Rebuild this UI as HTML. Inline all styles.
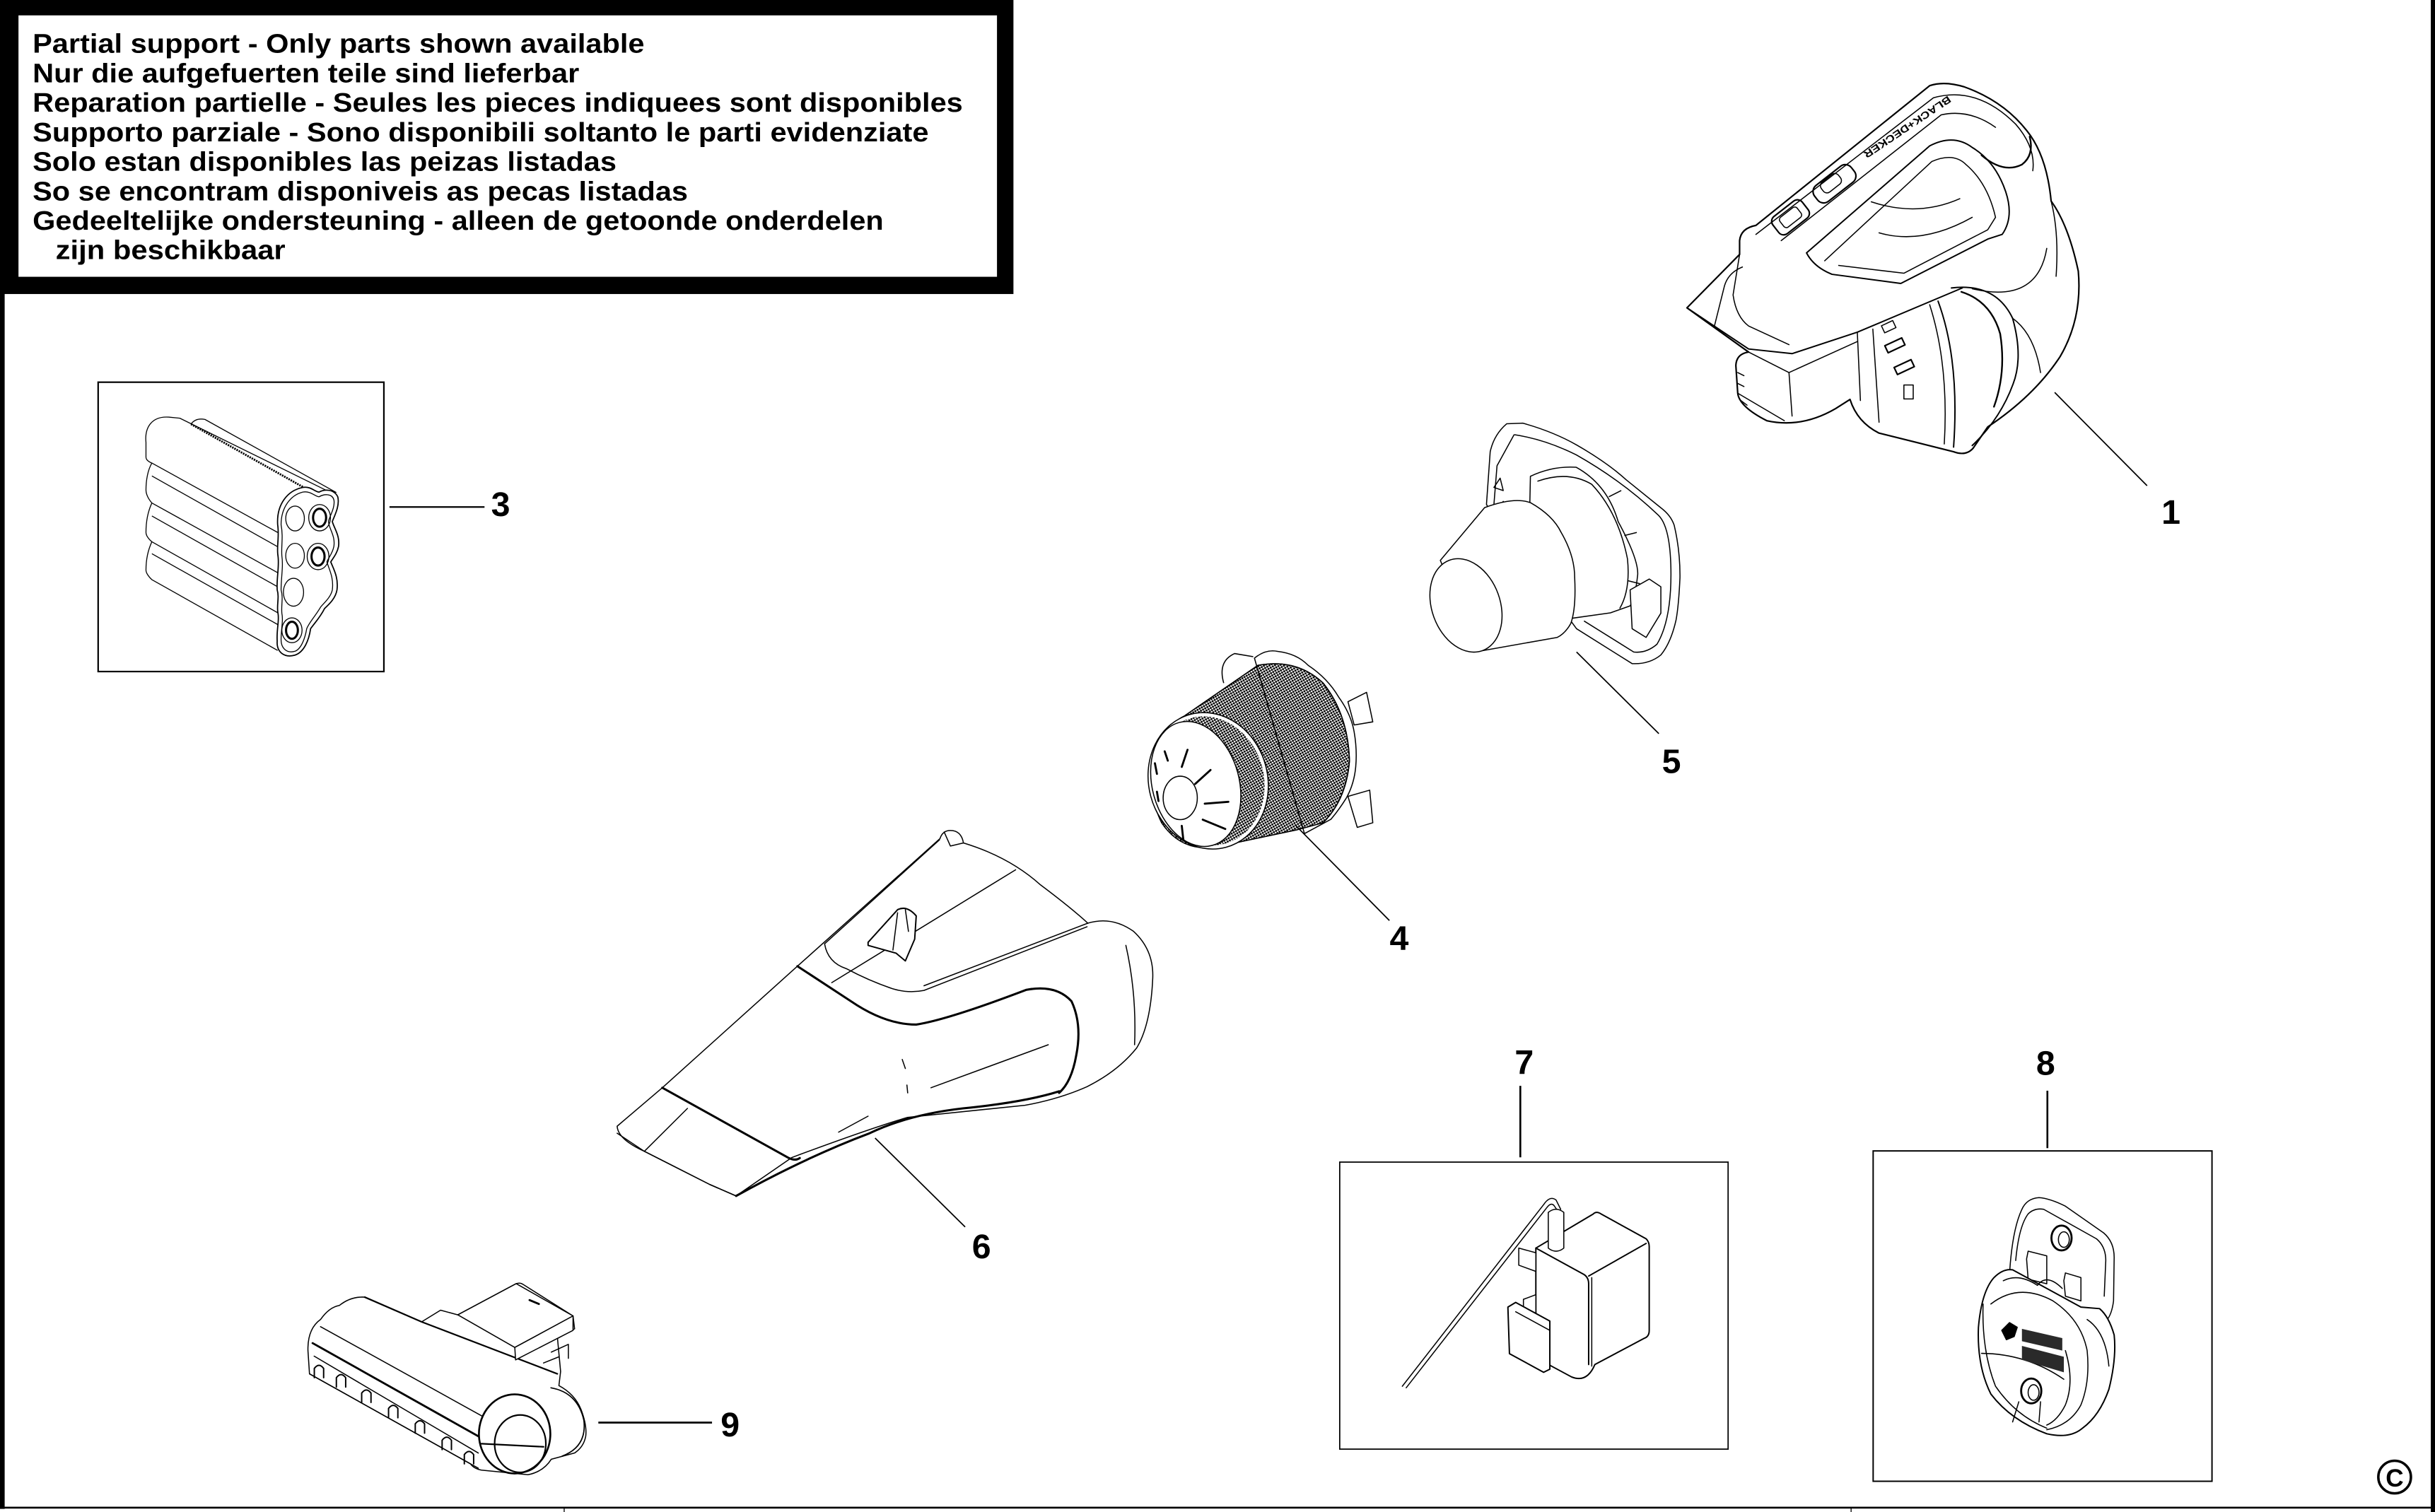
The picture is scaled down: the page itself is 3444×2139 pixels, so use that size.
<!DOCTYPE html>
<html>
<head>
<meta charset="utf-8">
<style>
html,body{margin:0;padding:0;background:#fff;}
svg{display:block;}
.t{font-family:"Liberation Sans",Arial,sans-serif;font-weight:bold;fill:#000;}
</style>
</head>
<body>
<svg xmlns="http://www.w3.org/2000/svg" width="3444" height="2139" viewBox="0 0 1568 974" preserveAspectRatio="none">
<defs>
<pattern id="mesh" width="1.6" height="1.6" patternUnits="userSpaceOnUse" patternTransform="rotate(-30)">
<circle cx="0.8" cy="0.8" r="0.66" fill="#000"/>
</pattern>
</defs>
<rect x="0" y="0" width="1568" height="974" fill="#fff"/>

<!-- page frame -->
<rect x="0" y="189" width="3" height="783" fill="#000"/>
<rect x="1565.3" y="0" width="2.7" height="974" fill="#000"/>
<rect x="0" y="970.6" width="1568" height="1.2" fill="#000"/>
<rect x="363" y="971" width="0.6" height="3" fill="#000"/>
<rect x="1191.7" y="971" width="0.6" height="3" fill="#000"/>

<!-- text box -->
<rect x="0" y="0" width="652.6" height="189.4" fill="#000"/>
<rect x="11.9" y="9.9" width="630.1" height="168.4" fill="#fff"/>
<g class="t" font-size="17.3">
<text x="21" y="34" textLength="394" lengthAdjust="spacingAndGlyphs">Partial support - Only parts shown available</text>
<text x="21" y="53" textLength="352" lengthAdjust="spacingAndGlyphs">Nur die aufgefuerten teile sind lieferbar</text>
<text x="21" y="72" textLength="599" lengthAdjust="spacingAndGlyphs">Reparation partielle - Seules les pieces indiquees sont disponibles</text>
<text x="21" y="91" textLength="577" lengthAdjust="spacingAndGlyphs">Supporto parziale - Sono disponibili soltanto le parti evidenziate</text>
<text x="21" y="110" textLength="376" lengthAdjust="spacingAndGlyphs">Solo estan disponibles las peizas listadas</text>
<text x="21" y="129" textLength="422" lengthAdjust="spacingAndGlyphs">So se encontram disponiveis as pecas listadas</text>
<text x="21" y="148" textLength="548" lengthAdjust="spacingAndGlyphs">Gedeeltelijke ondersteuning - alleen de getoonde onderdelen</text>
<text x="35.8" y="167" textLength="148" lengthAdjust="spacingAndGlyphs">zijn beschikbaar</text>
</g>

<!-- labels -->
<g class="t" font-size="22" text-anchor="middle">
<text x="1398" y="337.5">1</text>
<text x="322.4" y="332.4">3</text>
<text x="901" y="612">4</text>
<text x="1076.3" y="497.9">5</text>
<text x="632" y="810.5">6</text>
<text x="981.5" y="691.8">7</text>
<text x="1317.3" y="692.4">8</text>
<text x="470.2" y="925.3">9</text>
</g>

<!-- leaders -->
<g stroke="#000" fill="none">
<line x1="250.8" y1="326.6" x2="312" y2="326.6" stroke-width="1"/>
<line x1="979" y1="699.5" x2="979" y2="745.5" stroke-width="1.2"/>
<line x1="1318.4" y1="702.6" x2="1318.4" y2="739.6" stroke-width="1.2"/>
<line x1="385.3" y1="916.4" x2="458.5" y2="916.4" stroke-width="1.2"/>
<line x1="1323.1" y1="252.8" x2="1382.6" y2="312.9" stroke-width="0.8"/>
<line x1="1015.2" y1="420" x2="1068.2" y2="472.6" stroke-width="0.8"/>
<line x1="833.8" y1="531.2" x2="894.7" y2="593" stroke-width="0.8"/>
<line x1="563.5" y1="733.1" x2="621.5" y2="790.4" stroke-width="0.8"/>
</g>

<!-- boxes -->
<g stroke="#000" fill="none">
<rect x="63.2" y="246.2" width="184" height="186.4" stroke-width="1"/>
<rect x="862.7" y="748.6" width="250.1" height="184.9" stroke-width="0.8"/>
<rect x="1206.2" y="741.4" width="218.2" height="212.8" stroke-width="0.9"/>
</g>

<!-- copyright -->
<circle cx="1542" cy="951.5" r="10.5" fill="none" stroke="#000" stroke-width="1.6"/>
<text x="1542" y="957.5" class="t" font-size="16" text-anchor="middle">C</text>

<!-- PART 3 battery -->
<g stroke="#000" fill="none" stroke-width="0.6" stroke-linejoin="round">
<path d="M108.6,268.7 C98,268 93,275 94,285 L94,294.5 C94,297 97.8,298.3 97.8,298.3 C95,303 94,310 94,315.7 C94,320 97.8,324 97.8,324 C95,330 94,337 94,343 C94,346 97.8,349 97.8,349 C95,355 94,361 94,367.3 C94,370 97.8,373.4 97.8,373.4 L178.8,419"/>
<path d="M108.6,268.7 L115.8,269.4 L213,317.3"/>
<path d="M123,273.2 Q126,269 132,270.2 L216.6,317.3"/>
<path d="M123,273.2 L198.6,315.7" stroke-width="1.3" stroke-dasharray="1 0.6"/>
<path d="M97.8,298.3 L178.8,343 M97.8,306.6 L178.8,352.2 M97.8,324 L178.8,368.9 M97.8,332.4 L178.8,378 M97.8,349 L178.8,394.7 M97.8,356.7 L178.8,402.3"/>
<path fill="#fff" stroke-width="0.8" d="M178.8,338 C178,325 185,316 195,314 C200,313 203,317 205.5,317 C209,315 215,315 217.5,320 C219,326 215,333 214,336 C215,340 219,345 218,352 C217,357 214,360 213,362 C215,367 218,372 217,380 C216,386 211,390 209,392 C206,398 202,402 200,405 C199,412 196,420 190,422 C183,424 178,420 178.5,413 C178,405 180,400 179,395 C178,390 180,385 178.5,380 C178,372 180,365 179,358 C178,352 180,346 178.8,338 Z"/>
<path d="M181,338 C181,327 187,319 195,317 C200,316 203,320 205.5,320 C209,318 214,318 215,322 C216,327 212,333 211.5,336 C212,341 216,345 215,352 C214,357 211,360 210.5,362 C212,367 215,372 214,380 C213,385 208,389 206.5,391 C203,397 199,401 197.5,405 C196.5,411 194,418 190,419.5 C185,421 181,418 181,412 C181,405 182.5,400 181.5,395 C181,390 182.5,385 181,380 C181,372 182.5,365 181.5,358 C181,352 182.5,346 181,338 Z"/>
<ellipse cx="190" cy="334" rx="6" ry="8"/>
<ellipse cx="190" cy="358" rx="6" ry="8"/>
<ellipse cx="189" cy="381.5" rx="6.5" ry="9"/>
<ellipse cx="205.8" cy="333.5" rx="7" ry="8.5"/>
<ellipse cx="205.8" cy="333.5" rx="4.2" ry="5.8" stroke-width="1.4"/>
<ellipse cx="204.8" cy="358.5" rx="7" ry="8.5"/>
<ellipse cx="204.8" cy="358.5" rx="4.2" ry="5.8" stroke-width="1.4"/>
<ellipse cx="188" cy="406" rx="6.5" ry="8"/>
<ellipse cx="188" cy="406" rx="3.8" ry="5.5" stroke-width="1.4"/>
</g>

<!-- PART 1 main unit -->
<g stroke="#000" fill="none" stroke-width="0.7" stroke-linejoin="round" stroke-linecap="round">
<path fill="#fff" stroke-width="1" d="M1086.3,198.3 L1120.2,163.9 L1120.2,155 Q1121,147 1130.7,145.2 L1242.6,55.2 Q1252,52 1265,56 Q1290,65 1305,84 Q1318,100 1320.8,129.5 Q1332,145 1338.3,174.7 Q1341,205 1326.6,229.7 Q1310,255 1280,275 L1270.6,288.7 Q1266,294 1258,291 L1233.3,284.8 L1210,279 Q1196,272 1191.3,257.3 L1182,263.2 Q1160,276 1137.7,271 Q1120,262 1119,253.3 L1117.8,235.6 Q1118,228 1126,226.8 Z"/>
<path d="M1086.3,198.3 L1126,224.8 L1154,227.8 L1196,214 L1263.6,185.5" stroke-width="0.9"/>
<path d="M1120.2,163.9 L1116,190 Q1118,204 1126,210 L1152,222"/>
<path d="M1104,210 L1110,186 Q1112,176 1122,172"/>
<path d="M1130.7,151 L1245,63 Q1273,55 1298,80 Q1311,95 1309,110"/>
<path d="M1147,155 L1250,74 Q1268,70 1285,82"/>
<path d="M1163.3,162.9 L1242.6,94 Q1258,86 1270,95 Q1285,104 1291.6,123.6 Q1297,140 1289.3,151 L1280,154 L1224,182.6 L1179.7,176.7 Q1168,172 1163.3,162.9" stroke-width="0.9"/>
<path d="M1175,168 L1244,104 Q1258,98 1266,106 Q1280,118 1285,140 L1280,148 L1226,176 L1184,171"/>
<path d="M1205,130 Q1235,140 1262,128 M1210,150 Q1238,158 1270,140"/>
<path d="M1276,100 Q1290,112 1302,106 Q1310,100 1307,88" stroke-width="1.1"/>
<path d="M1320.8,129.5 Q1326,150 1324,178"/>
<path d="M1256.6,185.5 Q1285,182 1296,205 Q1303,230 1296.3,247.4 Q1288,270 1270,287" stroke-width="0.9"/>
<path d="M1242.6,196.3 Q1255,235 1252,286"/>
<path d="M1248,194 Q1262,232 1258,288" stroke-width="0.9"/>
<path d="M1263,188 Q1282,194 1288,215 Q1292,240 1284,262" stroke-width="1.1"/>
<path d="M1270,186 Q1312,196 1318,160"/>
<path d="M1296,205 Q1310,215 1314,240"/>
<path d="M1196,214 L1198,258 M1206,212 L1210,272"/>
<path d="M1126,226.8 L1152,240 L1154,268 M1119,253.3 L1149,271"/>
<path d="M1152,240 L1196,220"/>
<path d="M1119,240 L1123,242 M1119,247 L1123,249 M1121,258 L1125,261"/>
<rect x="1212" y="208" width="8" height="5" transform="rotate(-25 1216 210)"/>
<rect x="1214" y="220" width="12" height="5" transform="rotate(-25 1220 222)" stroke-width="1"/>
<rect x="1220" y="234" width="12" height="5" transform="rotate(-25 1226 236)" stroke-width="1"/>
<rect x="1226" y="248" width="6" height="9"/>
<rect x="1166" y="112" width="30" height="13" rx="5" transform="rotate(-38 1181 118)" stroke-width="1"/>
<rect x="1172" y="114" width="14" height="8" rx="3" transform="rotate(-38 1179 118)"/>
<rect x="1141" y="133" width="24" height="14" rx="4" transform="rotate(-38 1153 140)" stroke-width="1"/>
<rect x="1146" y="136" width="14" height="8" rx="2" transform="rotate(-38 1153 140)"/>
</g>
<text class="t" font-size="6.5" text-anchor="middle" transform="translate(1227 80) rotate(146)" textLength="66" lengthAdjust="spacingAndGlyphs">BLACK+DECKER</text>

<!-- PART 5 -->
<g stroke="#000" fill="none" stroke-width="0.7" stroke-linejoin="round">
<path fill="#fff" d="M970.2,273 L980.6,272.6 Q1000,278 1015.2,286.6 Q1035,298 1047.2,309.1 L1069.5,327.1 Q1076,332 1078.1,338.4 Q1082,355 1081.8,372.2 Q1081,390 1079.3,399.3 Q1076,414 1069.5,421.9 Q1062,428 1051,427.5 L1015.2,405 L960,330 L957.2,324.9 L959.6,291 Q962,280 970.2,273 Z"/>
<path d="M975,280 Q995,283 1015,293 Q1045,310 1068,332 Q1076,340 1076,370 Q1076,400 1067,415 Q1060,421 1052,420 L1020,400"/>
<path d="M975,280 L964,300 L962,325"/>
<path fill="#fff" d="M985.5,306.8 Q1000,300 1015,301 Q1035,312 1042,336 Q1055,360 1054.6,370 Q1053,385 1049.7,390.3 L1037,394.8 L1000,400 L985,330 Z"/>
<path d="M990,310 Q1010,303 1025,312 Q1042,330 1048,360 Q1050,380 1043,392"/>
<path d="M1036,320 L1044,316 M1046,345 L1054,343 M1048,374 L1056,376"/>
<path fill="#fff" d="M1049.7,380 L1062,373 L1069.5,378 L1069.5,395 L1060,410.6 L1051,405 Z"/>
<path d="M962,314 L966,308 L968,316 Z M964,328 L968,323 L970,330"/>
<path fill="#fff" d="M927.5,361 L956,327 Q975,320 985.5,323.8 Q1000,332 1005.3,343 Q1014,358 1014,372 Q1015,392 1011.5,401.6 Q1008,408 1002.8,410.6 L952,419.6 Z"/>
<ellipse cx="944" cy="390" rx="22" ry="31" transform="rotate(-20 944 390)" fill="#fff"/>
</g>

<!-- PART 4 -->
<g stroke="#000" fill="none" stroke-width="0.7" stroke-linejoin="round">
<path fill="#fff" d="M807.8,424 Q815,418 822.7,419.6 Q835,421 842.4,428.6 Q855,437 862,449 Q870,460 872,471.5 Q874,483 873,494 Q872,505 867,514 Q862,522 857,527.8 L840,537 Z"/>
<path d="M788,440 Q784,426 795,421 L807,423"/>
<path fill="#fff" d="M868,452 L880,446 L884,465 L872,467 Z"/>
<path fill="#fff" d="M868,513 L882,509 L884,530 L874,533 Z"/>
<path fill="url(#mesh)" d="M763,461 L810,428.6 Q835,424 852,440 Q868,460 869,490 Q867,515 852,530 L835,534.6 L781,546 Q760,548 748,530 Q738,510 745,485 Q752,466 763,461 Z"/>
<path d="M763,461 L810,428.6 Q835,424 852,440 Q868,460 869,490 Q867,515 852,530 L835,534.6 L781,546"/>
<ellipse cx="778" cy="503" rx="37" ry="43" transform="rotate(-15 778 503)" stroke="#fff" stroke-width="2.2"/>
<ellipse cx="778" cy="503" rx="38.3" ry="44.3" transform="rotate(-15 778 503)"/>
<ellipse cx="770" cy="505" rx="28" ry="41" transform="rotate(-15 770 505)" fill="#fff"/>
<ellipse cx="760" cy="514" rx="11" ry="14" fill="#fff"/>
<g stroke-width="1.3" stroke-linecap="round">
<line x1="750" y1="484" x2="752" y2="490"/>
<line x1="764.7" y1="483" x2="761" y2="494"/>
<line x1="779.5" y1="496" x2="769.6" y2="505"/>
<line x1="775.8" y1="517.7" x2="791" y2="516.5"/>
<line x1="774.5" y1="528" x2="789" y2="534"/>
<line x1="761" y1="532" x2="762" y2="541"/>
<line x1="743.7" y1="491.7" x2="745" y2="498.5"/>
<line x1="745" y1="510" x2="746" y2="516"/>
</g>
</g>

<!-- PART 6 nozzle -->
<g stroke="#000" fill="none" stroke-width="0.7" stroke-linejoin="round" stroke-linecap="round">
<path fill="#fff" d="M397.4,725.5 L426.5,700.7 L513.5,622.4 L605.3,540.2 Q607,535 612,535 Q619,535 620.4,543 Q650,552 670,570 Q690,585 700.5,594.7 Q716,590 730,600 Q743,612 742.3,630 Q741,660 732,675 Q720,690 700,700 Q682,708 660,712 Q620,716 584.4,719.8 Q560,727 510,745.6 L474,770.4 L457,763 L415,741.7 Q398,734 397.4,725.5 Z"/>
<path d="M531,608 L605,541 M608,536 L612,545 L620.4,543"/>
<path d="M513.5,622.4 L548,645 Q570,660 590,660 Q610,657 661,637.6 Q680,634 690,645 Q697,660 693,680 Q690,697 682,704" stroke-width="1.4"/>
<path d="M531,608 Q533,620 545,624 Q560,632 575,637 Q585,640 595,638 L700,597"/>
<path d="M595,635 L700.5,594.7"/>
<path d="M535.6,633 L654,560.3"/>
<path d="M426.5,700.7 L508,746 Q512,748 515,746" stroke-width="1.4"/>
<path d="M474,770.4 Q520,745 560,730 Q585,718 620,714 Q660,710 682,703" stroke-width="1.4"/>
<path d="M397.4,730 L415,741.7 L457,763 L474,770.4"/>
<path d="M442.7,714 L414.9,741.7"/>
<path d="M675,673 L599.5,700.7"/>
<path d="M725,609 Q732,640 730.6,673"/>
<path d="M559,719 L540,729.3"/>
<path d="M581,682.5 L583,688.3 M584,699 L584.5,704"/>
<path fill="#fff" d="M559,607 L578,586 Q584,583 590,590 L589,605 L583,619 L577,614 L559,609 Z" stroke-width="0.9"/>
<path d="M578,588 L575,612 M583,586 L585,600"/>
</g>

<!-- PART 9 -->
<g stroke="#000" fill="none" stroke-width="0.7" stroke-linejoin="round" stroke-linecap="round">
<path fill="#fff" d="M199.3,885 L198.3,870 Q198,856 206.4,850 Q212,842 218.6,840.9 Q226,835 234.9,835.6 L271.5,851.5 L283.7,844 L294.8,847 L332.4,826.9 Q335,826 337,827.5 L369,847.7 L370,856 L359,862.2 L361,883.5 L359.9,892.6 Q370,898 374.1,907.8 Q378,918 377.2,925 Q376,932 370,936 L355,940 Q350,948 340,950 L310,947 Q305,946 303,943 Z"/>
<path d="M234.9,835.6 L271.5,851.5 L358.9,885" stroke-width="1"/>
<path d="M294.8,847 L332.4,826.9 L369,847.7 L331.5,868 Z" fill="#fff"/>
<path d="M331.5,868 L369,847.7 L369,857 L332,876 Z" fill="#fff"/>
<path d="M341,837.5 L347,840" stroke-width="1.3"/>
<path d="M355,871 L366,866 L366,875 M350,878 L360,874"/>
<path d="M206.4,854.6 L316.2,915.4"/>
<path d="M201.3,865.2 L312.1,927.5" stroke-width="1.3"/>
<path d="M202.3,873.6 L308,936"/>
<path d="M199.3,885 L308,945.8"/>
<path d="M354.8,894 Q372,897 376,915 Q378,932 362,938" stroke-width="0.8"/>
<ellipse cx="331.4" cy="923.7" rx="23" ry="25.5" fill="#fff" stroke-width="1.2"/>
<ellipse cx="335" cy="930" rx="16.5" ry="18.5" stroke-width="1"/>
<path d="M310,930 L350,932" stroke-width="1"/>
<g stroke-width="0.9">
<path d="M202.4,887.5 L202.4,881.5 Q205.4,877.5 208.4,881.5 L208.4,887.5"/>
<path d="M216.6,893.5 L216.6,887.5 Q219.6,883.5 222.6,887.5 L222.6,893.5"/>
<path d="M232.9,903.4 L232.9,897.4 Q235.9,893.4 238.9,897.4 L238.9,903.4"/>
<path d="M250.2,913.3 L250.2,907.3 Q253.2,903.3 256.2,907.3 L256.2,913.3"/>
<path d="M267.4,923.2 L267.4,917.2 Q270.4,913.2 273.4,917.2 L273.4,923.2"/>
<path d="M284.7,933.8 L284.7,927.8 Q287.7,923.8 290.7,927.8 L290.7,933.8"/>
<path d="M299,943 L299,937 Q302,933 305,937 L305,943"/>
</g>
</g>

<!-- PART 7 charger -->
<g stroke="#000" fill="none" stroke-width="0.7" stroke-linejoin="round" stroke-linecap="round">
<path d="M903,893 L994,776 Q998,770 1002,773 L1005,779"/>
<path d="M905.5,894 L996,778 Q999,774 1001,777 L1003,780"/>
<path fill="#fff" d="M989,812 L989,804 L1026,782 Q1028,780 1031,782 L1060,798 Q1062,800 1062,803 L1062,857 Q1062,861 1059,862 L1027,879 Q1022,891 1012,887 L999,880 L989,874 Z" stroke-width="0.9"/>
<path d="M989,804 L1020,821 Q1023,823 1023,827 L1023,879" stroke-width="0.9"/>
<path d="M1023,822 L1060,801" stroke-width="0.9"/>
<path d="M1025,823 L1025,880"/>
<path fill="#fff" d="M997,781 L997,804 Q1002,808 1007,804 L1007,781 Q1002,777 997,781 Z"/>
<path fill="#fff" d="M989,807 L978,804 L978,815 L989,819 Z"/>
<path fill="#fff" d="M989,834 L981,837 L981,844 L989,846 Z"/>
<path fill="#fff" d="M971,842 L976,839 L998,851 L998,882 L994,884 L972,872 Z" stroke-width="0.9"/>
<path d="M976,845 L998,857"/>
</g>

<!-- PART 8 wall mount -->
<g stroke="#000" fill="none" stroke-width="0.7" stroke-linejoin="round" stroke-linecap="round">
<path fill="#fff" d="M1294.2,818 Q1296,792 1301.8,779.4 Q1305,772 1313,771.5 Q1320,772 1330,777 L1354.6,794.2 Q1361.4,800 1361.4,810 L1361,838 Q1360,846 1357,850 L1300,830 Z"/>
<path d="M1298,812 Q1300,790 1306,782 Q1310,778 1316,779 L1350,798 Q1356,803 1356,812 L1355,835"/>
<path fill="#fff" d="M1305,811 L1306,806 L1318,809 L1318,827 L1306,824 Z"/>
<path fill="#fff" d="M1329,825 L1330,820 L1340,823 L1340,838 L1330,835 Z"/>
<ellipse cx="1327.5" cy="797.5" rx="6.5" ry="8" stroke-width="1.3"/>
<ellipse cx="1329" cy="798.5" rx="3.5" ry="5"/>
<path fill="#fff" stroke-width="0.9" d="M1284,823 Q1276,832 1274,855 Q1273,880 1282,898 Q1295,915 1318,923.6 Q1333,927 1341,920 Q1352,912 1358,895 Q1363,875 1361.4,860 Q1358,848 1352,843 L1340,842 L1296,818 Q1290,817 1284,823 Z"/>
<path d="M1277,840 Q1276,870 1285,893 Q1298,912 1318,920"/>
<path d="M1282,840 Q1300,826 1322,838 Q1340,850 1344,870 Q1346,890 1340,905 Q1333,918 1318,921"/>
<path d="M1290,825 Q1300,820 1312,828 M1312,828 Q1318,820 1328,830"/>
<path d="M1344,850 Q1356,858 1358,880"/>
<path d="M1276,871.8 Q1305,872 1329,888.5"/>
<ellipse cx="1308" cy="896" rx="6.5" ry="8" stroke-width="1.3" fill="#fff"/>
<ellipse cx="1309.5" cy="897" rx="3.5" ry="5"/>
<path d="M1300,903 L1296,916 M1314,903 L1313,916"/>
<path fill="#000" d="M1289,857 L1294,852 L1299,855 L1297,861 L1292,863 Z"/>
<path fill="#2a2a2a" stroke="none" d="M1302,856 L1328,862 L1328,870 L1302,864 Z"/>
<path fill="#2a2a2a" stroke="none" d="M1302,867 L1329,874 L1329,884 L1302,876 Z"/>
<path d="M1330,870 Q1336,890 1330,905 Q1325,915 1318,918"/>
</g>
</svg>
</body>
</html>
